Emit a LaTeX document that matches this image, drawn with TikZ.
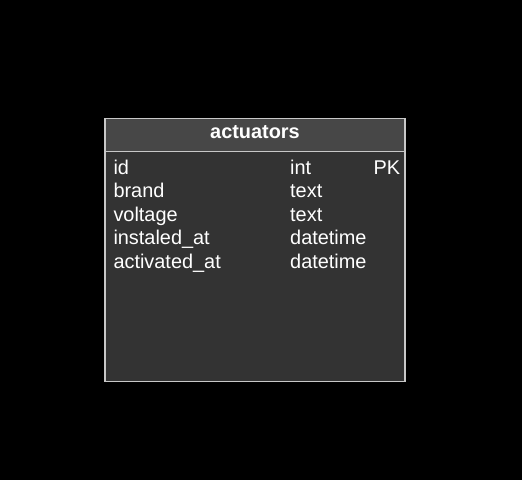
\documentclass[tikz,border=0pt]{standalone}
\usepackage{fontspec}
\setmainfont{Liberation Sans}
\definecolor{hdr}{HTML}{474747}
\definecolor{bodyc}{HTML}{333333}
\definecolor{bord}{HTML}{C8C8C8}
\begin{document}
\begin{tikzpicture}[x=1pt,y=-1pt,
  cell/.style={anchor=base west,inner sep=0pt,text=white,font=\fontsize{19.9}{22}\selectfont},
  title/.style={inner sep=0pt,text=white,font=\fontsize{19.9}{22}\selectfont\bfseries}]
\fill[black] (0,0) rectangle (522,480);
\useasboundingbox (0,0) rectangle (522,480);
\fill[bodyc] (105,151.5) rectangle (405,381.5);
\fill[hdr] (105,118.5) rectangle (405,151.5);
\draw[bord,line width=1.8pt] (105,118.5) rectangle (405,381.5);
\draw[bord,line width=1.8pt] (105,151.5) -- (405,151.5);
\node[title] (t) at (255,132) {actuators};
\node[cell] (n1) at (113.3,174) {id};
\node[cell] (n2) at (113.3,197.5) {brand};
\node[cell] (n3) at (113.3,221) {voltage};
\node[cell] (n4) at (113.3,244.5) {instaled\_at};
\node[cell] (n5) at (113.3,268) {activated\_at};
\node[cell] (y1) at (290,174) {int};
\node[cell] (y2) at (290,197.5) {text};
\node[cell] (y3) at (290,221) {text};
\node[cell] (y4) at (290,244.5) {datetime};
\node[cell] (y5) at (290,268) {datetime};
\node[cell] (k1) at (373.3,174) {PK};
\end{tikzpicture}
\end{document}
